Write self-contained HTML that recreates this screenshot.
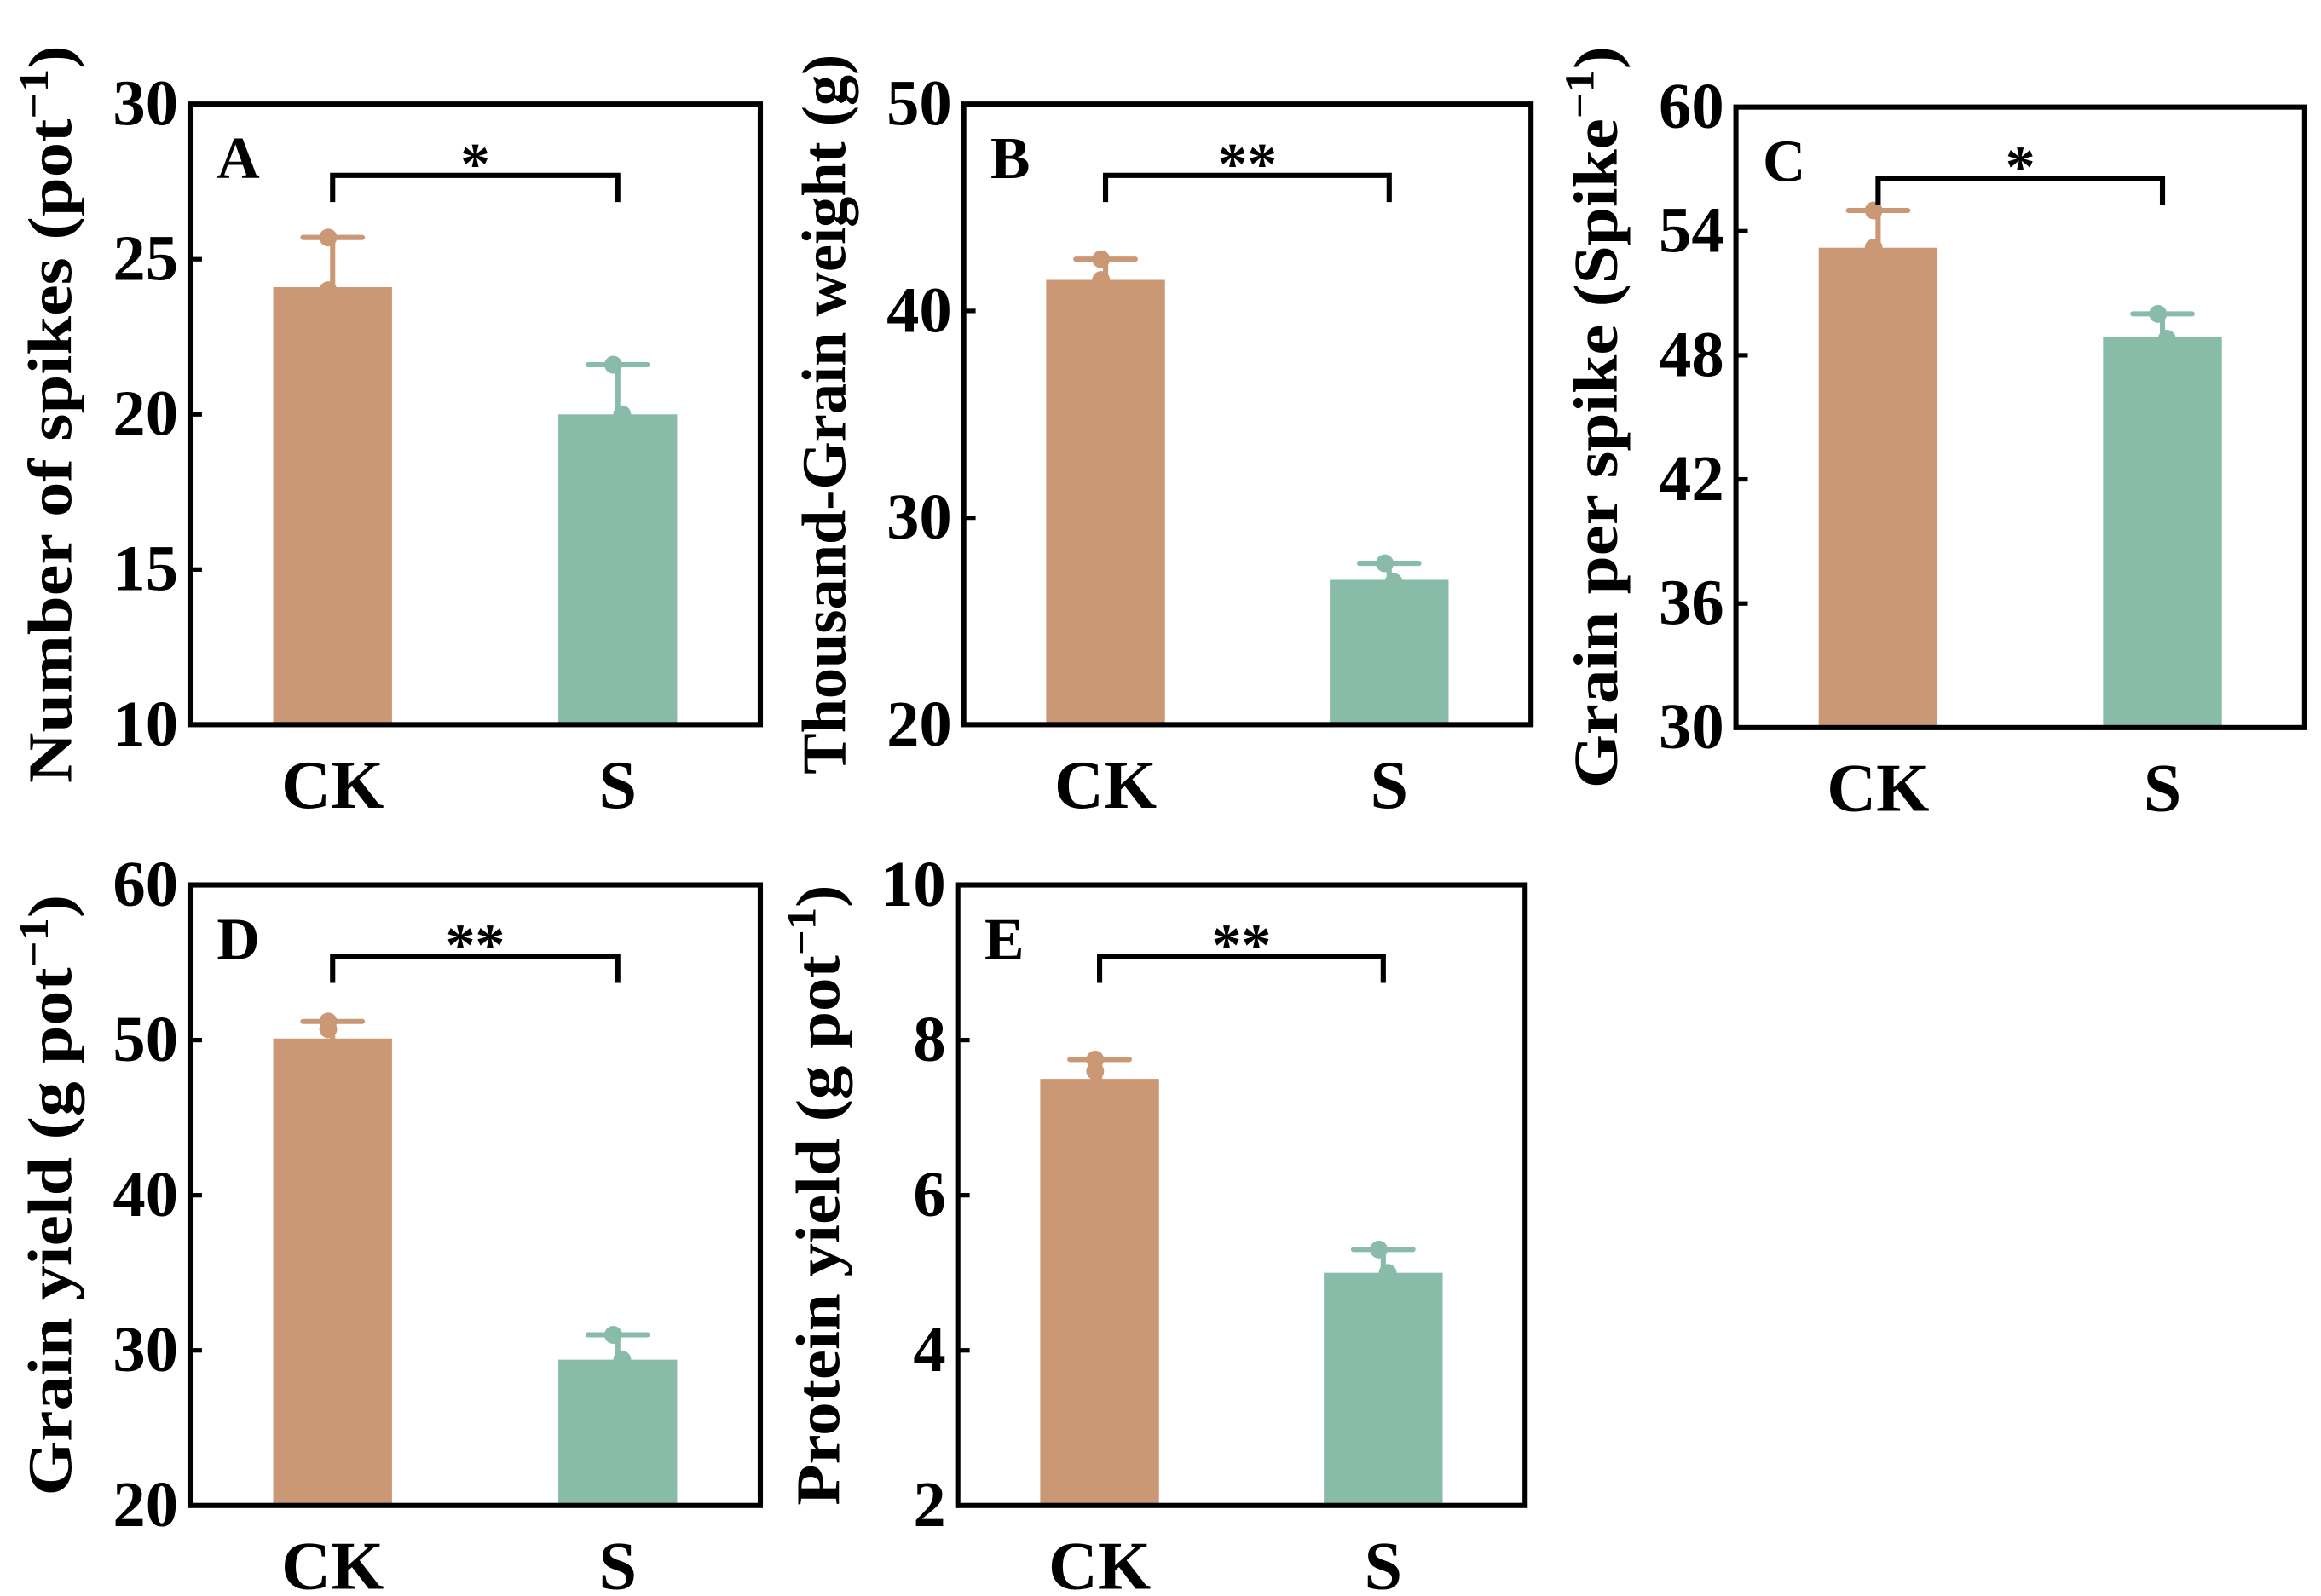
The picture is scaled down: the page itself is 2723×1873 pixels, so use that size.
<!DOCTYPE html>
<html><head><meta charset="utf-8"><style>
body{margin:0;background:#fff}
svg text{font-family:"Liberation Serif","Times New Roman",serif;font-weight:bold;fill:#000}
</style></head><body>
<svg id="fig" width="2723" height="1868" viewBox="0 0 1563 1072" xmlns="http://www.w3.org/2000/svg" font-family="Liberation Serif, serif" font-weight="bold"></svg>
<script>
const categories = ["CK","S"];
const panelLetters = ["A","B","C","D","E"];
const meanValues = [[24.1,20.0],[41.5,27.0],[53.2,48.9],[50.1,29.4],[7.5,5.0]];
const errTopValues = [[25.7,21.6],[42.5,27.8],[55.0,50.0],[51.2,31.0],[7.75,5.3]];
const lowDotValues = [[24.0,20.0],[41.5,26.9],[53.2,48.8],[50.7,29.4],[7.6,5.0]];
const yMin = [10,20,30,20,2];
const yMax = [30,50,60,60,10];
const yTicks = [[10,15,20,25,30],[20,30,40,50],[30,36,42,48,54,60],[20,30,40,50,60],[2,4,6,8,10]];
const sigLabels = ["*","**","*","**","**"];
const yTitles = ["Number of spikes (pot|)","Thousand-Grain weight (g)","Grain per spike (Spike|)","Grain yield (g pot|)","Protein yield (g pot|)"];

const boxes=[[128,70,512,488],[649,70,1031,488],[1169,72,1552,490],[128,596,512,1014],[645,596,1027,1014]];
const titleLen=[497,485,500,405,418];
const colors=["#CB9876","#89BBA9"];
const NS="http://www.w3.org/2000/svg";
const svg=document.getElementById('fig');
function mk(t,a,p){const e=document.createElementNS(NS,t);for(const k in a)e.setAttribute(k,a[k]);(p||svg).appendChild(e);return e;}

for(let i=0;i<5;i++){
  const [x0,y0,x1,y1]=boxes[i];
  const g=mk('g',{});
  
  
  const y=v=>y1-(v-yMin[i])/(yMax[i]-yMin[i])*(y1-y0);
  const w=x1-x0;
  const cx=[x0+w*0.25,x0+w*0.75];
  for(let j=0;j<2;j++){
    const bw=80;
    const b=mk('rect',{x:cx[j]-bw/2,y:y(meanValues[i][j]),width:bw,height:y1-y(meanValues[i][j]),fill:colors[j]},g);
    
    
    const eb=mk('g',{stroke:colors[j],'stroke-width':3.5,'stroke-linecap':'round'},g);
    
    
    mk('line',{x1:cx[j],x2:cx[j],y1:y(meanValues[i][j]),y2:y(errTopValues[i][j])},eb);
    mk('line',{x1:cx[j]-20,x2:cx[j]+20,y1:y(errTopValues[i][j]),y2:y(errTopValues[i][j])},eb);
    const d1=mk('circle',{cx:cx[j]-3,cy:y(errTopValues[i][j]),r:6,fill:colors[j]},g);
    
    
    const d2=mk('circle',{cx:cx[j]+3*(j?1:-1),cy:y(lowDotValues[i][j]),r:6,fill:colors[j]},g);
    
    
    const xl=mk('text',{x:cx[j],y:y1+56,'font-size':46,'text-anchor':'middle'},g);
    xl.textContent=categories[j];
    
    
  }
  const fr=mk('rect',{x:x0,y:y0,width:w,height:y1-y0,fill:'none',stroke:'#000','stroke-width':3.5},g);
  
  
  yTicks[i].forEach(t=>{
    mk('line',{x1:x0,x2:x0+8,y1:y(t),y2:y(t),stroke:'#000','stroke-width':3},g);
    const tl=mk('text',{x:x0-8,y:y(t)+14,'font-size':44,'text-anchor':'end'},g);
    tl.textContent=t;
    
    
  });
  const lt=mk('text',{x:x0+18,y:y0+50,'font-size':40},g);
  lt.textContent=panelLetters[i];
  
  
  const by=y0+48;
  const br=mk('path',{d:`M${cx[0]},${by+18}V${by}H${cx[1]}V${by+18}`,fill:'none',stroke:'#000','stroke-width':3.5},g);
  
  
  const st=mk('text',{x:(cx[0]+cx[1])/2,y:by+6,'font-size':40,'text-anchor':'middle'},g);
  st.textContent=sigLabels[i];
  
  
  const tx=x0-80, ty=(y0+y1)/2;
  const tt=mk('text',{x:0,y:0,'font-size':42,'text-anchor':'middle',transform:`translate(${tx},${ty}) rotate(-90)`,textLength:titleLen[i],lengthAdjust:'spacingAndGlyphs'},g);
  const parts=yTitles[i].split('|');
  if(parts.length>1){
    tt.appendChild(document.createTextNode(parts[0].replace(/\)$/,'')));
    const sp=mk('tspan',{'font-size':28,dy:-16},tt);sp.textContent='\u22121';
    const sp2=mk('tspan',{dy:16},tt);sp2.textContent=')';
  } else tt.textContent=parts[0];
  
  
}
</script>
</body></html>
